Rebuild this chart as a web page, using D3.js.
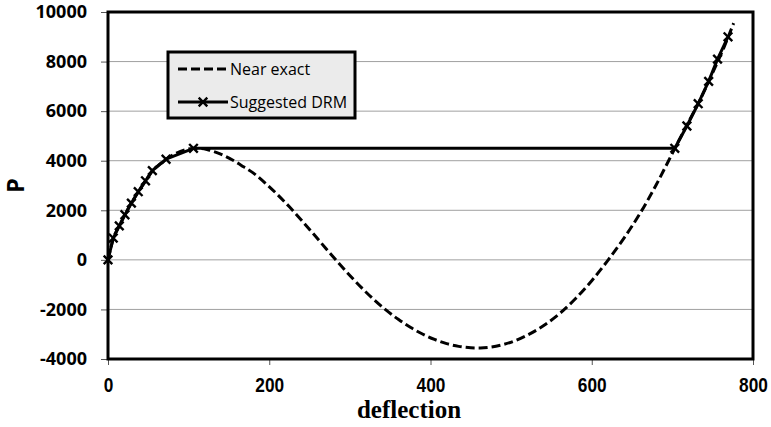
<!DOCTYPE html>
<html>
<head>
<meta charset="utf-8">
<script src="https://cdn.jsdelivr.net/npm/d3@7"></script>
<style>
  body { margin: 0; background: #fff; }
</style>
</head>
<body>
<svg id="chart" width="771" height="427"></svg>
<script>
// near exact load-deflection path
const exactDeflection = [0, 7, 14, 21, 29, 38, 47, 55, 65, 75, 85, 95, 105, 115, 125, 135, 145, 155, 165, 180,
  195, 210, 225, 240, 255, 270, 285, 300, 315, 330, 345, 360, 375, 390, 405, 420, 435, 450, 462, 475,
  490, 505, 520, 540, 560, 580, 600, 620, 640, 660, 680, 695, 705, 720, 735, 750, 765, 776];
const exactLoad = [0, 900, 1370, 1820, 2290, 2760, 3200, 3580, 3880, 4130, 4310, 4430, 4495, 4490, 4430, 4330, 4190, 4020, 3820, 3510,
  3100, 2640, 2140, 1600, 1040, 470, -90, -630, -1140, -1610, -2030, -2400, -2720, -2990, -3210, -3380, -3490, -3545, -3555, -3520,
  -3420, -3260, -3040, -2660, -2170, -1560, -840, -20, 880, 1880, 3030, 3980, 4620, 5560, 6500, 7550, 8650, 9550];

// suggested DRM path with markers
const drmDeflection = [0, 6.5, 14, 21, 29, 37.5, 46.5, 55, 72, 106, 703, 718, 732, 745, 756, 769];
const drmLoad = [0, 880, 1370, 1820, 2290, 2750, 3190, 3600, 4060, 4500, 4500, 5400, 6300, 7200, 8100, 9000];

const seriesNames = ["Near exact", "Suggested DRM"];
const xTicks = [0, 200, 400, 600, 800];
const yTicks = [-4000, -2000, 0, 2000, 4000, 6000, 8000, 10000];
const xTitle = "deflection";
const yTitle = "P";

const width = 771, height = 427;
const margin = {top: 12, right: 18, bottom: 68, left: 108};
const svg = d3.select("#chart");

const x = d3.scaleLinear().domain([0, 800]).range([margin.left, width - margin.right]);
const y = d3.scaleLinear().domain([-4000, 10000]).range([height - margin.bottom, margin.top]);

// gridlines
svg.append("g")
  .selectAll("line")
  .data(yTicks.slice(1, -1))
  .join("line")
  .attr("x1", x(0)).attr("x2", x(800))
  .attr("y1", d => y(d)).attr("y2", d => y(d))
  .attr("stroke", "#a0a0a0")
  .attr("stroke-width", 1);

// axes (plain hyphen minus like the original)
const fmt = d => String(d);

const yAxis = svg.append("g")
  .attr("transform", `translate(${margin.left},0)`)
  .call(d3.axisLeft(y).tickValues(yTicks).tickFormat(fmt).tickSize(7).tickPadding(14));
yAxis.select(".domain").remove();
yAxis.selectAll("line").attr("stroke", "#555").attr("stroke-width", 1);
yAxis.selectAll("text")
  .attr("font-family", "'Open Sans', sans-serif")
  .attr("font-weight", "bold")
  .attr("font-size", 18)
  .attr("fill", "#000");

const xAxis = svg.append("g")
  .attr("transform", `translate(0,${height - margin.bottom})`)
  .call(d3.axisBottom(x).tickValues(xTicks).tickFormat(fmt).tickSize(6).tickPadding(13));
xAxis.select(".domain").remove();
xAxis.selectAll("line").attr("stroke", "#555").attr("stroke-width", 1);
// the original uses a narrow bold face, so squeeze the glyphs a little
xAxis.selectAll("text")
  .attr("font-family", "'Liberation Sans', Arial, sans-serif")
  .attr("font-weight", "bold")
  .attr("font-size", 20)
  .attr("fill", "#000")
  .attr("textLength", d => fmt(d).length * 9.6)
  .attr("lengthAdjust", "spacingAndGlyphs");

// plot border
svg.append("rect")
  .attr("x", x(0)).attr("y", y(10000))
  .attr("width", x(800) - x(0)).attr("height", y(-4000) - y(10000))
  .attr("fill", "none")
  .attr("stroke", "#000")
  .attr("stroke-width", 3);

// near exact dashed curve
const exactPts = exactDeflection.map((d, i) => [d, exactLoad[i]]);
const curve = d3.line().x(d => x(d[0])).y(d => y(d[1])).curve(d3.curveMonotoneX);
svg.append("path")
  .datum(exactPts)
  .attr("d", curve)
  .attr("fill", "none")
  .attr("stroke", "#000")
  .attr("stroke-width", 3)
  .attr("stroke-dasharray", "9,4");

// suggested DRM line + markers
const drmPts = drmDeflection.map((d, i) => [d, drmLoad[i]]);
svg.append("path")
  .datum(drmPts)
  .attr("d", d3.line().x(d => x(d[0])).y(d => y(d[1])))
  .attr("fill", "none")
  .attr("stroke", "#000")
  .attr("stroke-width", 3)
  .attr("stroke-linejoin", "round");

const xMark = d3.symbol().type(d3.symbolX).size(50);
svg.append("g")
  .selectAll("path")
  .data(drmPts)
  .join("path")
  .attr("d", xMark)
  .attr("transform", d => `translate(${x(d[0])},${y(d[1])})`)
  .attr("fill", "none")
  .attr("stroke", "#000")
  .attr("stroke-width", 2.4);

// axis titles
svg.append("text")
  .attr("x", 409).attr("y", 418)
  .attr("text-anchor", "middle")
  .attr("font-family", "'Liberation Serif', serif")
  .attr("font-weight", "bold")
  .attr("font-size", 25)
  .text(xTitle);

svg.append("text")
  .attr("transform", `translate(24,${(y(10000) + y(-4000)) / 2}) rotate(-90)`)
  .attr("text-anchor", "middle")
  .attr("font-family", "'Open Sans', sans-serif")
  .attr("font-weight", "bold")
  .attr("font-size", 23)
  .text(yTitle);

// legend
const legend = svg.append("g").attr("transform", "translate(168,52)");
legend.append("rect")
  .attr("width", 187).attr("height", 66)
  .attr("fill", "#ebebeb")
  .attr("stroke", "#000")
  .attr("stroke-width", 3);

const rows = [17, 50];
seriesNames.forEach((name, i) => {
  const row = legend.append("g").attr("transform", `translate(0,${rows[i]})`);
  row.append("line")
    .attr("x1", 10).attr("x2", 60)
    .attr("stroke", "#000")
    .attr("stroke-width", 3)
    .attr("stroke-dasharray", i === 0 ? "9,4" : null);
  if (i === 1) {
    row.append("path")
      .attr("d", xMark)
      .attr("transform", "translate(35,0)")
      .attr("fill", "none")
      .attr("stroke", "#000")
      .attr("stroke-width", 2.4);
  }
  row.append("text")
    .attr("x", 62).attr("dy", "0.35em")
    .attr("font-family", "'Open Sans', sans-serif")
    .attr("font-size", 16)
    .attr("fill", "#000")
    .text(name);
});
</script>
</body>
</html>
